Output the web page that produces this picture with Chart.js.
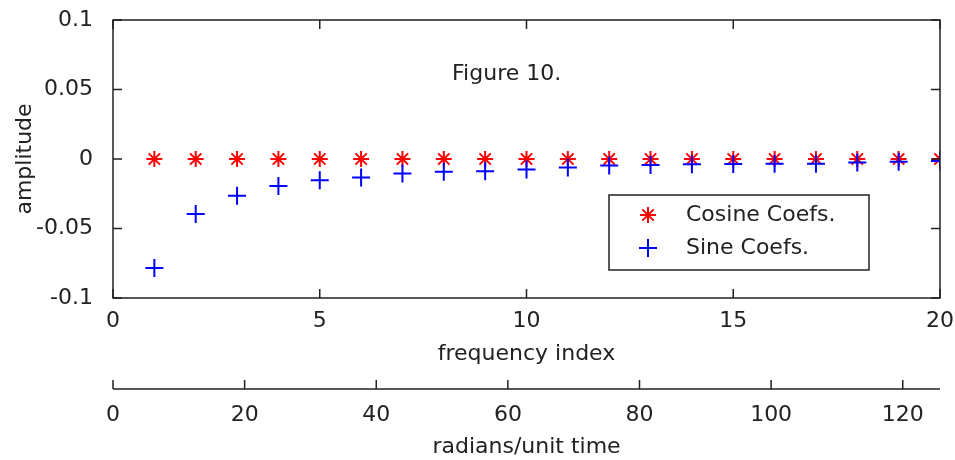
<!DOCTYPE html>
<html>
<head>
<meta charset="utf-8">
<script src="https://cdn.jsdelivr.net/npm/chart.js@4/dist/chart.umd.min.js"></script>
<style>
  html, body { margin: 0; padding: 0; background: #fff; }
  #wrap { width: 955px; height: 460px; }
</style>
</head>
<body>
<div id="wrap"><canvas id="myChart"></canvas></div>
<script>
// values
let freqIndex = [1, 2, 3, 4, 5, 6, 7, 8, 9, 10, 11, 12, 13, 14, 15, 16, 17, 18, 19, 20];
let cosineCoefs = [0, 0, 0, 0, 0, 0, 0, 0, 0, 0, 0, 0, 0, 0, 0, 0, 0, 0, 0, 0];
let sineCoefs = [-0.0785, -0.0395, -0.0265, -0.0195, -0.0152, -0.0133, -0.0105, -0.0092, -0.0088, -0.0075,
  -0.0062, -0.0046, -0.0044, -0.0038, -0.0036, -0.0035, -0.0034, -0.0025, -0.002, -0.0015];
let xTicks = [0, 5, 10, 15, 20];
let yTicks = [-0.1, -0.05, 0, 0.05, 0.1];
let radTicks = [0, 20, 40, 60, 80, 100, 120];
let radMax = 125.66; // 20 * 2pi

const FONT = "DejaVu Sans";
const INK = "#222";

let toPoints = (ys) => ys.map((v, i) => ({ x: freqIndex[i], y: v }));

// frame, inward ticks, second axis line, annotation and legend
let matlabFrame = {
  id: "matlabFrame",
  afterDraw(chart) {
    let c = chart.ctx;
    let a = chart.chartArea;
    let sx = chart.scales.x, sy = chart.scales.y, s2 = chart.scales.x2;
    let tl = 9;
    c.save();
    c.strokeStyle = INK;
    c.lineWidth = 1.5;
    c.strokeRect(a.left, a.top, a.right - a.left, a.bottom - a.top);
    c.beginPath();
    xTicks.forEach((t) => {
      let p = sx.getPixelForValue(t);
      c.moveTo(p, a.bottom); c.lineTo(p, a.bottom - tl);
      c.moveTo(p, a.top); c.lineTo(p, a.top + tl);
    });
    yTicks.forEach((t) => {
      let p = sy.getPixelForValue(t);
      c.moveTo(a.left, p); c.lineTo(a.left + tl, p);
      c.moveTo(a.right, p); c.lineTo(a.right - tl, p);
    });
    // second axis
    let y2 = s2.top + 1;
    c.moveTo(s2.left, y2); c.lineTo(s2.right, y2);
    radTicks.forEach((t) => {
      let p = s2.getPixelForValue(t);
      c.moveTo(p, y2); c.lineTo(p, y2 - tl);
    });
    c.stroke();

    // annotation
    c.fillStyle = INK;
    c.font = "22px '" + FONT + "'";
    c.textBaseline = "middle";
    c.textAlign = "left";
    c.fillText("Figure 10.", sx.getPixelForValue(8.2), sy.getPixelForValue(0.061));

    // legend
    let lx = 609, ly = 195, lw = 260, lh = 75;
    c.fillStyle = "#fff";
    c.fillRect(lx, ly, lw, lh);
    c.strokeStyle = INK;
    c.lineWidth = 1.5;
    c.strokeRect(lx, ly, lw, lh);
    let ds = chart.data.datasets;
    let rows = [ds[1], ds[0]];
    rows.forEach((d, i) => {
      let yy = ly + 20 + i * 33;
      c.strokeStyle = d.borderColor;
      c.fillStyle = d.backgroundColor;
      c.lineWidth = d.borderWidth;
      Chart.helpers.drawPoint(c, {
        pointStyle: d.pointStyle, radius: d.pointRadius, borderWidth: d.borderWidth,
      }, lx + 39, yy);
      c.fillStyle = INK;
      c.fillText(d.label, lx + 77, yy);
    });
    c.restore();
  },
};

let ctx = document.getElementById("myChart");

let graphData = {
  type: "scatter",
  data: {
    datasets: [
      {
        label: "Sine Coefs.",
        data: toPoints(sineCoefs),
        pointStyle: "cross",
        pointRadius: 9,
        borderColor: "#0000ff",
        backgroundColor: "#0000ff",
        borderWidth: 2,
        order: 0,
      },
      {
        label: "Cosine Coefs.",
        data: toPoints(cosineCoefs),
        pointStyle: "star",
        pointRadius: 8,
        borderColor: "#ff0000",
        backgroundColor: "#ff0000",
        borderWidth: 2,
        order: 1,
      },
    ],
  },
  options: {
    responsive: true,
    maintainAspectRatio: false,
    animation: false,
    events: [],
    layout: { padding: { top: 20, right: 15, left: 0, bottom: 0 } },
    plugins: { legend: { display: false }, tooltip: { enabled: false } },
    scales: {
      x: {
        type: "linear",
        position: "bottom",
        weight: 0,
        min: 0,
        max: 20,
        afterBuildTicks: (s) => { s.ticks = xTicks.map((v) => ({ value: v })); },
        afterFit: (s) => { s.height = 90; s.paddingLeft = 0; s.paddingRight = 0; },
        grid: { display: false },
        border: { display: false },
        ticks: { color: INK, font: { family: FONT, size: 22 }, padding: 2, maxRotation: 0 },
        title: { display: true, text: "frequency index", color: INK,
          font: { family: FONT, size: 22, lineHeight: 1.2 }, padding: { top: 0, bottom: 21 } },
      },
      x2: {
        type: "linear",
        position: "bottom",
        weight: 1,
        display: true,
        min: 0,
        max: radMax,
        afterBuildTicks: (s) => { s.ticks = radTicks.map((v) => ({ value: v })); },
        afterFit: (s) => { s.height = 72; s.paddingLeft = 0; s.paddingRight = 0; },
        grid: { display: false },
        border: { display: false },
        ticks: { color: INK, font: { family: FONT, size: 22 }, padding: 6, maxRotation: 0 },
        title: { display: true, text: "radians/unit time", color: INK,
          font: { family: FONT, size: 22, lineHeight: 1.2 }, padding: { top: 0, bottom: 0 } },
      },
      y: {
        type: "linear",
        min: -0.1,
        max: 0.1,
        afterBuildTicks: (s) => { s.ticks = yTicks.map((v) => ({ value: v })); },
        afterFit: (s) => { s.width = 113; s.paddingTop = 0; s.paddingBottom = 0; },
        grid: { display: false },
        border: { display: false },
        ticks: { color: INK, font: { family: FONT, size: 22 }, padding: 12,
          callback: (v) => String(Math.round(v * 100) / 100) },
        title: { display: true, text: "amplitude", color: INK,
          font: { family: FONT, size: 22, lineHeight: 1.2 }, padding: { top: 12, bottom: 0 } },
      },
    },
  },
  plugins: [matlabFrame],
};

let myChart = new Chart(ctx, graphData);
</script>
</body>
</html>
